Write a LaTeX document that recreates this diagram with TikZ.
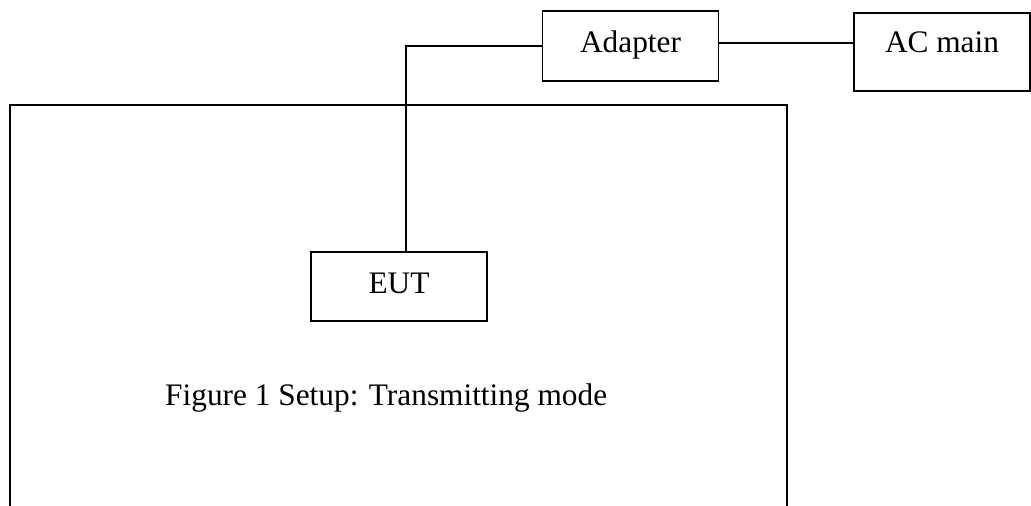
\documentclass[tikz,border=0pt]{standalone}
\usepackage{fontspec}
\setmainfont{Liberation Serif}
\usetikzlibrary{calc}

\begin{document}
\begin{tikzpicture}[x=0.75pt, y=-0.75pt, line width=1.2pt,
    unit/.style={draw, minimum width=132pt, inner sep=0pt, text height=16pt, text depth=5.5pt,
      font=\fontsize{23.5}{28}\selectfont}]
        \useasboundingbox (0,0) rectangle (1031,506);
        \coordinate (origin) at (0, 0);

        % test room
        \draw ($(origin) + (10,506)$) -- ($(origin) + (10,105)$) -- ($(origin) + (787,105)$) -- ($(origin) + (787,506)$);

        \node (adapter) [unit, minimum height=52.5pt] at ($(origin) + (630.5,46)$) {Adapter};
        \node (acmain) [unit, minimum height=58.5pt, text depth=14.5pt] at ($(origin) + (942,52)$) {AC main};
        \node (eut) [unit, minimum height=52pt] at ($(origin) + (399,286.5)$) {EUT};

        % cables
        \coordinate (bend) at ($(origin) + (406,46)$);
        \draw (adapter.west) -- (bend) -- (bend |- eut.north);
        \draw ($(adapter.east) + (0,-3)$) -- ($(adapter.east -| acmain.west) + (0,-3)$);

        \node (caption) [anchor=base west, font=\fontsize{23.5}{28}\selectfont] at ($(origin) + (160,405)$) {Figure 1 Setup: Transmitting mode};
      \end{tikzpicture}
\end{document}
